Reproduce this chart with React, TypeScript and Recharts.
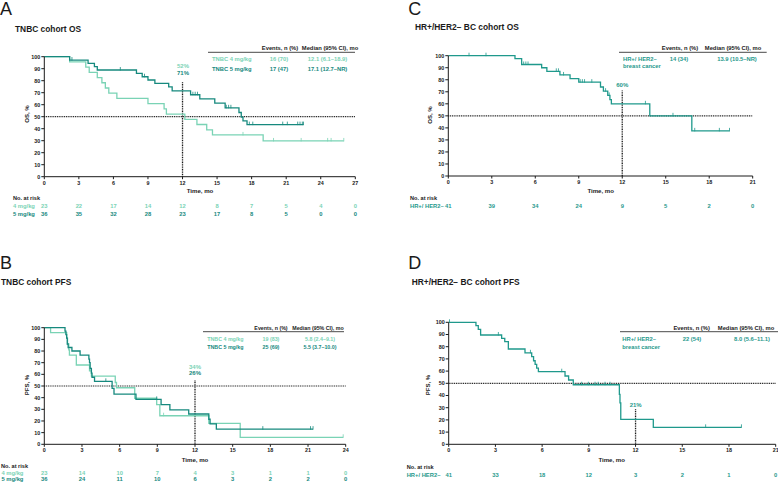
import React from 'react';
import { ComposedChart, Line, Scatter, XAxis, YAxis, ReferenceLine } from 'recharts';

const FONT = '"Liberation Sans", Arial, Helvetica, sans-serif';
const LIGHT = '#7ad3b5';
const DARK = '#16897e';
const TEAL = '#1f998c';
const INK = '#1a1a1a';

type Pair = [number, number];

// ─── Axis ticks ─────────────────────────────────────────────────
const yTicks = [0, 10, 20, 30, 40, 50, 60, 70, 80, 90, 100];
const ticksA = [0, 3, 6, 9, 12, 15, 18, 21, 24, 27];
const ticksB = [0, 3, 6, 9, 12, 15, 18, 21, 24];
const ticksCD = [0, 3, 6, 9, 12, 15, 18, 21];

// ─── A: TNBC OS ─────────────────────────────────────────────────
const osA4: Pair[] = [
  [0, 100], [2.2, 95.7], [3.6, 91.3], [3.9, 87], [4.6, 82.6], [5.0, 78.3], [5.3, 73.9],
  [5.6, 69.6], [6.3, 65.2], [9.0, 60.9], [10.4, 56.5], [10.6, 52.2], [12.2, 47.8],
  [13.25, 43.5], [14.1, 39.1], [14.6, 34.8], [19.0, 29.8], [26.0, 29.8],
];
const osA4Censor: Pair[] = [[17.25, 34.8], [19.9, 29.8], [22.3, 29.8], [24.6, 29.8], [24.9, 29.8], [26.0, 29.8]];
const osA5: Pair[] = [
  [0, 100], [2.2, 97.2], [3.8, 94.4], [4.35, 91.7], [4.6, 88.9], [8.0, 86.1], [8.5, 83.3],
  [9.0, 80.6], [9.6, 77.8], [10.8, 74.8], [11.1, 71.6], [12.7, 68.3], [13.5, 64.8],
  [14.8, 61.3], [15.7, 57.4], [16.9, 53.5], [17.1, 49.6], [17.25, 46.5], [17.6, 43.4], [22.5, 43.4],
];
const osA5Censor: Pair[] = [
  [2.4, 97.2], [6.6, 88.9], [8.7, 83.3], [12.9, 68.3], [13.1, 68.3], [13.3, 68.3],
  [15.8, 57.4], [16.0, 57.4], [16.2, 57.4], [17.8, 43.4], [18.1, 43.4], [20.7, 43.4],
  [21.1, 43.4], [22.0, 43.4], [22.2, 43.4], [22.4, 43.4], [22.5, 43.4],
];
const riskA4 = [23, 22, 17, 14, 12, 8, 7, 5, 4, 0];
const riskA5 = [36, 35, 32, 28, 23, 17, 8, 5, 0, 0];

// ─── B: TNBC PFS ────────────────────────────────────────────────
const pfsB4: Pair[] = [
  [0, 100], [0.5, 95.7], [1.78, 91], [1.85, 86], [1.95, 81], [2.0, 76.5], [2.55, 68],
  [3.6, 63], [3.75, 58.5], [5.65, 53], [5.75, 48.5], [7.2, 39.5], [8.95, 34], [9.2, 24.5],
  [13.1, 18], [15.6, 6], [23.8, 6],
];
const pfsB4Censor: Pair[] = [[9.5, 24.5], [23.8, 6]];
const pfsB5: Pair[] = [
  [0, 100], [1.65, 97], [1.72, 94], [1.78, 91], [1.83, 86], [1.9, 83], [2.2, 80], [2.85, 76.5],
  [3.55, 73], [3.6, 70], [3.65, 65], [3.75, 61], [3.8, 57.5], [4.0, 54], [5.4, 48], [5.55, 43],
  [7.3, 38.5], [9.3, 34], [10.0, 29.5], [11.5, 26], [13.1, 21.5], [13.2, 17.5], [13.7, 13], [21.4, 13],
];
const pfsB5Censor: Pair[] = [[4.9, 54], [8.95, 38.5], [17.4, 13], [21.2, 13], [21.4, 13]];
const riskB4 = [23, 14, 10, 7, 4, 3, 1, 1, 0];
const riskB5 = [36, 24, 11, 10, 6, 3, 2, 2, 0];

// ─── C: HR+/HER2− OS ────────────────────────────────────────────
const osC: Pair[] = [
  [0, 100], [4.6, 97.6], [5.06, 92.7], [6.44, 90], [6.8, 87], [7.7, 84], [8.4, 81], [9.0, 78],
  [10.5, 74], [10.7, 70.5], [11.0, 67], [11.15, 63.5], [11.25, 60], [13.9, 50], [16.8, 37.5], [19.4, 37.5],
];
const osCCensor: Pair[] = [
  [1.43, 100], [2.6, 100], [5.2, 92.7], [5.35, 92.7], [5.5, 92.7], [7.45, 87], [7.6, 87],
  [7.95, 84], [9.1, 78], [9.25, 78], [9.4, 78], [9.9, 78], [10.85, 70.5], [11.1, 67],
  [13.6, 60], [15.5, 50], [17.0, 37.5], [18.7, 37.5], [19.4, 37.5],
];
const riskC = [41, 39, 34, 24, 9, 5, 2, 0];

// ─── D: HR+/HER2− PFS ───────────────────────────────────────────
const pfsD: Pair[] = [
  [0, 100], [1.75, 97.2], [1.9, 94.2], [2.05, 89.6], [3.4, 86.9], [3.6, 84.1], [3.83, 78.1],
  [4.9, 75], [5.33, 71.8], [5.45, 68.5], [5.55, 65.5], [5.65, 62.5], [5.76, 59.5], [7.47, 56],
  [7.7, 52.7], [8.0, 48.8], [10.96, 41], [11.0, 34], [11.05, 20.5], [13.14, 13.9], [18.8, 13.9],
];
const pfsDCensor: Pair[] = [
  [0.05, 100], [3.19, 89.6], [5.25, 75], [7.26, 59.5], [8.54, 48.8], [8.97, 48.8], [9.4, 48.8],
  [9.6, 48.8], [10.04, 48.8], [10.36, 48.8], [16.5, 13.9], [18.8, 13.9],
];
const riskD = [41, 33, 18, 12, 3, 2, 1, 0];

const toPts = (p: Pair[]) => p.map(([t, v]) => ({ t, v }));

// ─── Kaplan–Meier panel ─────────────────────────────────────────

interface Curve { steps: Pair[]; censors: Pair[]; color: string }
interface RiskRow { values: number[]; color: string; height: number; tickMargin: number }

function KMPanel({
  left, top, width, height, margin, xMax, xTicks, mainHeight, curves, rows, cut,
}: {
  left: number; top: number; width: number; height: number;
  margin: { top: number; right: number; bottom: number; left: number };
  xMax: number; xTicks: number[]; mainHeight: number;
  curves: Curve[]; rows: RiskRow[]; cut: number;
}) {
  const tickStyle = { fill: INK, fontSize: 5.4, fontWeight: 700 };
  return (
    <div style={{ position: 'absolute', left, top }}>
      <ComposedChart width={width} height={height} margin={margin}>
        <XAxis
          xAxisId="main" type="number" dataKey="t" domain={[0, xMax]} ticks={xTicks} interval={0}
          height={mainHeight} tickSize={2.5} tickMargin={1.5} stroke={INK} tick={tickStyle}
        />
        {rows.map((r, i) => (
          <XAxis
            key={i} xAxisId={`risk${i}`} type="number" dataKey="t" domain={[0, xMax]} ticks={xTicks}
            interval={0} height={r.height} axisLine={false} tickLine={false} tickSize={0}
            tickMargin={r.tickMargin} tick={{ fill: r.color, fontSize: 5.8, fontWeight: 700 }}
            tickFormatter={(v: number) => String(r.values[xTicks.indexOf(v)] ?? '')}
          />
        ))}
        <YAxis
          type="number" domain={[0, 100]} ticks={yTicks} interval={0} width={30}
          tickSize={3} tickMargin={1} stroke={INK} tick={tickStyle}
        />
        <ReferenceLine xAxisId="main" y={50} stroke={INK} strokeWidth={1.2} strokeDasharray="1 0.8" />
        <ReferenceLine
          xAxisId="main" segment={[{ x: 12, y: 0 }, { x: 12, y: cut }]}
          stroke={INK} strokeWidth={1.3} strokeDasharray="1 0.7"
        />
        {/* invisible carriers so the at-risk axes get a scale */}
        {rows.map((r, i) => (
          <Line
            key={`r${i}`} xAxisId={`risk${i}`} data={xTicks.map((t, k) => ({ t, v: r.values[k] * 0 }))}
            dataKey="v" stroke="none" dot={false} activeDot={false} isAnimationActive={false}
          />
        ))}
        {curves.map((c, i) => (
          <Line
            key={`l${i}`} xAxisId="main" data={toPts(c.steps)} dataKey="v" type="stepAfter"
            stroke={c.color} strokeWidth={1.3} dot={false} activeDot={false} isAnimationActive={false}
          />
        ))}
        {curves.map((c, i) => (
          <Scatter
            key={`s${i}`} xAxisId="main" data={toPts(c.censors)} dataKey="v" isAnimationActive={false}
            shape={(p: any) => (
              <line x1={p.cx} x2={p.cx} y1={p.cy - 3} y2={p.cy + 0.5} stroke={c.color} strokeWidth={0.8} />
            )}
          />
        ))}
      </ComposedChart>
    </div>
  );
}

function Txt({
  x, y, size = 5.8, color = INK, bold = true, anchor = 'start', rotate, children,
}: {
  x: number; y: number; size?: number; color?: string; bold?: boolean;
  anchor?: 'start' | 'middle' | 'end'; rotate?: number; children: React.ReactNode;
}) {
  return (
    <text
      x={x} y={y} fontSize={size} fill={color} fontWeight={bold ? 700 : 400} textAnchor={anchor}
      dominantBaseline="central" transform={rotate ? `rotate(${rotate} ${x} ${y})` : undefined}
    >
      {children}
    </text>
  );
}

export default function App() {
  return (
    <div
      style={{
        position: 'absolute', left: 0, top: 0, width: 778, height: 485, background: '#fff',
        overflow: 'hidden', fontFamily: FONT,
      }}
    >
      <KMPanel
        left={0} top={0} width={390} height={240}
        margin={{ top: 56.7, right: 34.7, bottom: 24.7, left: 14.3 }}
        xMax={27} xTicks={ticksA} mainHeight={20} cut={79}
        curves={[
          { steps: osA4, censors: osA4Censor, color: LIGHT },
          { steps: osA5, censors: osA5Censor, color: DARK },
        ]}
        rows={[
          { values: riskA4, color: LIGHT, height: 8.6, tickMargin: 6.9 },
          { values: riskA5, color: DARK, height: 10, tickMargin: 6.9 },
        ]}
      />
      <KMPanel
        left={0} top={240} width={390} height={245}
        margin={{ top: 87.7, right: 44.3, bottom: 4.7, left: 14.3 }}
        xMax={24} xTicks={ticksB} mainHeight={20} cut={55}
        curves={[
          { steps: pfsB4, censors: pfsB4Censor, color: LIGHT },
          { steps: pfsB5, censors: pfsB5Censor, color: DARK },
        ]}
        rows={[
          { values: riskB4, color: LIGHT, height: 6, tickMargin: 6.9 },
          { values: riskB5, color: DARK, height: 10, tickMargin: 6.9 },
        ]}
      />
      <KMPanel
        left={390} top={0} width={388} height={240}
        margin={{ top: 55.7, right: 25.3, bottom: 34, left: 28.3 }}
        xMax={21} xTicks={ticksCD} mainHeight={20} cut={71}
        curves={[{ steps: osC, censors: osCCensor, color: TEAL }]}
        rows={[{ values: riskC, color: TEAL, height: 10, tickMargin: 7.9 }]}
      />
      <KMPanel
        left={390} top={240} width={388} height={245}
        margin={{ top: 82.3, right: 2.3, bottom: 10.7, left: 28.7 }}
        xMax={21} xTicks={ticksCD} mainHeight={20} cut={28.7}
        curves={[{ steps: pfsD, censors: pfsDCensor, color: TEAL }]}
        rows={[{ values: riskD, color: TEAL, height: 10, tickMargin: 8.6 }]}
      />

      <svg
        width={778} height={485}
        style={{ position: 'absolute', left: 0, top: 0, pointerEvents: 'none' }}
      >
        {/* A */}
        <Txt x={0} y={8.5} size={18} bold={false}>A</Txt>
        <Txt x={15} y={29} size={8.4}>TNBC cohort OS</Txt>
        <Txt x={280} y={47.7} anchor="middle">Events, n (%)</Txt>
        <Txt x={330} y={47.7} anchor="middle">Median (95% CI), mo</Txt>
        <line x1={208} x2={355} y1={52.3} y2={52.3} stroke={INK} strokeWidth={0.8} />
        <Txt x={212} y={59} color={LIGHT}>TNBC 4 mg/kg</Txt>
        <Txt x={279} y={59} color={LIGHT} anchor="middle">16 (70)</Txt>
        <Txt x={327.5} y={59} color={LIGHT} anchor="middle">12.1 (6.1–18.9)</Txt>
        <Txt x={212} y={69} color={DARK}>TNBC 5 mg/kg</Txt>
        <Txt x={279} y={69} color={DARK} anchor="middle">17 (47)</Txt>
        <Txt x={327.5} y={69} color={DARK} anchor="middle">17.1 (12.7–NR)</Txt>
        <Txt x={183} y={66.3} size={6} color={LIGHT} anchor="middle">52%</Txt>
        <Txt x={183} y={73.3} size={6} color={DARK} anchor="middle">71%</Txt>
        <Txt x={26.7} y={114} size={6} anchor="middle" rotate={-90}>OS, %</Txt>
        <Txt x={200} y={190.7} size={6.1} anchor="middle">Time, mo</Txt>
        <Txt x={13} y={197.7} size={5.6}>No. at risk</Txt>
        <Txt x={13} y={205.7} color={LIGHT}>4 mg/kg</Txt>
        <Txt x={13} y={214.3} color={DARK}>5 mg/kg</Txt>

        {/* B */}
        <Txt x={0} y={263} size={18} bold={false}>B</Txt>
        <Txt x={1} y={282} size={8.4}>TNBC cohort PFS</Txt>
        <Txt x={271} y={327.7} size={5.3} anchor="middle">Events, n (%)</Txt>
        <Txt x={318} y={327.7} size={5.3} anchor="middle">Median (95% CI), mo</Txt>
        <line x1={203} x2={344} y1={331.7} y2={331.7} stroke={INK} strokeWidth={0.8} />
        <Txt x={207.3} y={339.3} size={5.3} color={LIGHT}>TNBC 4 mg/kg</Txt>
        <Txt x={271} y={339.3} size={5.3} color={LIGHT} anchor="middle">19 (83)</Txt>
        <Txt x={320} y={339.3} size={5.3} color={LIGHT} anchor="middle">5.8 (2.4–9.1)</Txt>
        <Txt x={207.3} y={347.3} size={5.3} color={DARK}>TNBC 5 mg/kg</Txt>
        <Txt x={271} y={347.3} size={5.3} color={DARK} anchor="middle">25 (69)</Txt>
        <Txt x={320} y={347.3} size={5.3} color={DARK} anchor="middle">5.5 (3.7–10.0)</Txt>
        <Txt x={195} y={366.7} size={6} color={LIGHT} anchor="middle">34%</Txt>
        <Txt x={195} y={373.3} size={6} color={DARK} anchor="middle">26%</Txt>
        <Txt x={26.7} y={385} size={6} anchor="middle" rotate={-90}>PFS, %</Txt>
        <Txt x={195} y={459} size={6.1} anchor="middle">Time, mo</Txt>
        <Txt x={1} y={465.7} size={5.6}>No. at risk</Txt>
        <Txt x={1.5} y={473.3} color={LIGHT}>4 mg/kg</Txt>
        <Txt x={1.5} y={479.3} color={DARK}>5 mg/kg</Txt>

        {/* C */}
        <Txt x={408.3} y={8.5} size={18} bold={false}>C</Txt>
        <Txt x={415} y={27} size={8.4}>HR+/HER2− BC cohort OS</Txt>
        <Txt x={680} y={47.7} anchor="middle">Events, n (%)</Txt>
        <Txt x={733} y={47.7} anchor="middle">Median (95% CI), mo</Txt>
        <line x1={619} x2={766.7} y1={52.3} y2={52.3} stroke={INK} strokeWidth={0.8} />
        <Txt x={623} y={58.7} color={TEAL}>HR+/ HER2–</Txt>
        <Txt x={623} y={65.7} color={TEAL}>breast cancer</Txt>
        <Txt x={679} y={58.7} color={TEAL} anchor="middle">14 (34)</Txt>
        <Txt x={737} y={58.7} color={TEAL} anchor="middle">13.9 (10.5–NR)</Txt>
        <Txt x={622.3} y={84.7} size={6} color={TEAL} anchor="middle">60%</Txt>
        <Txt x={430} y={115} size={6} anchor="middle" rotate={-90}>OS, %</Txt>
        <Txt x={600.7} y={190.3} size={6.1} anchor="middle">Time, mo</Txt>
        <Txt x={410} y={197.7} size={5.6}>No. at risk</Txt>
        <Txt x={410} y={206} color={TEAL}>HR+/ HER2–</Txt>

        {/* D */}
        <Txt x={408.3} y={263} size={18} bold={false}>D</Txt>
        <Txt x={411.7} y={282} size={8.4}>HR+/HER2− BC cohort PFS</Txt>
        <Txt x={691.7} y={327.7} anchor="middle">Events, n (%)</Txt>
        <Txt x={746} y={327.7} anchor="middle">Median (95% CI), mo</Txt>
        <line x1={620} x2={778} y1={331.7} y2={331.7} stroke={INK} strokeWidth={0.8} />
        <Txt x={622.3} y={339.3} color={TEAL}>HR+/ HER2–</Txt>
        <Txt x={622.3} y={346.7} color={TEAL}>breast cancer</Txt>
        <Txt x={692} y={339.3} color={TEAL} anchor="middle">22 (54)</Txt>
        <Txt x={752} y={339.3} color={TEAL} anchor="middle">8.0 (5.6–11.1)</Txt>
        <Txt x={635.7} y={405} size={6} color={TEAL} anchor="middle">21%</Txt>
        <Txt x={428.3} y={385} size={6} anchor="middle" rotate={-90}>PFS, %</Txt>
        <Txt x={611.7} y={459.3} size={6.1} anchor="middle">Time, mo</Txt>
        <Txt x={406.7} y={467.3} size={5.6}>No. at risk</Txt>
        <Txt x={406.7} y={475} color={TEAL}>HR+/ HER2–</Txt>
      </svg>
    </div>
  );
}
